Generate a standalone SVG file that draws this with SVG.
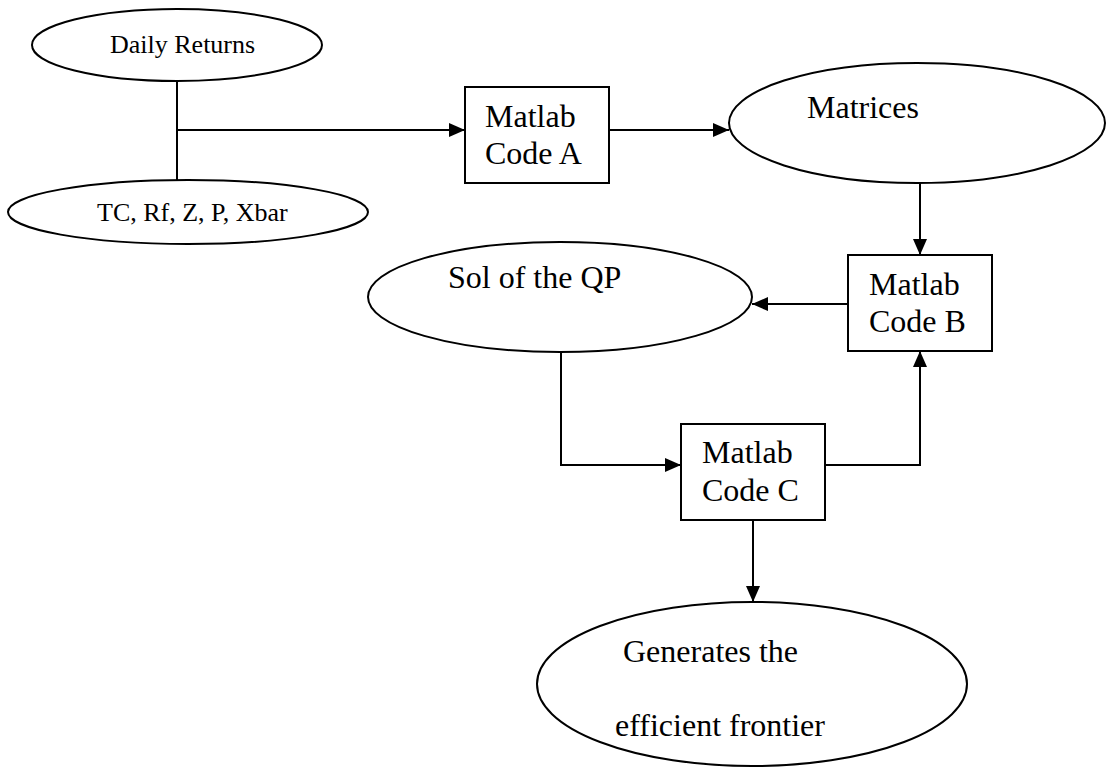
<svg xmlns="http://www.w3.org/2000/svg" width="1106" height="767" viewBox="0 0 1106 767">
<defs>
<style>
.shape{fill:#fff;stroke:#000;stroke-width:2}
.line{fill:none;stroke:#000;stroke-width:2}
.t{font-family:"Liberation Serif","Times New Roman",serif;fill:#000}
.s{font-size:26px}
.m{font-size:32px}
</style>
<marker id="ah" markerWidth="16" markerHeight="14" refX="16" refY="7" orient="auto" markerUnits="userSpaceOnUse" viewBox="0 0 16 14">
<path d="M0,0 L16,7 L0,14 Z" fill="#000"/>
</marker>
</defs>
<rect width="1106" height="767" fill="#fff"/>
<g id="connectors">
<line class="line" x1="177" y1="81" x2="177" y2="180"/>
<line class="line" x1="177" y1="130" x2="465" y2="130" marker-end="url(#ah)"/>
<line class="line" x1="609" y1="130" x2="729" y2="130" marker-end="url(#ah)"/>
<line class="line" x1="920" y1="183" x2="920" y2="255" marker-end="url(#ah)"/>
<line class="line" x1="848" y1="304" x2="752" y2="304" marker-end="url(#ah)"/>
<polyline class="line" points="561,345 561,465 681,465" marker-end="url(#ah)"/>
<polyline class="line" points="825,465 920,465 920,351" marker-end="url(#ah)"/>
<line class="line" x1="753" y1="520" x2="753" y2="602" marker-end="url(#ah)"/>
</g>
<g id="daily-returns">
<ellipse class="shape" cx="177" cy="45" rx="145" ry="36"/>
<text class="t s" x="110" y="53">Daily Returns</text>
</g>
<g id="tc-params">
<ellipse class="shape" cx="188" cy="212" rx="180" ry="32"/>
<text class="t s" x="97" y="221">TC, Rf, Z, P, Xbar</text>
</g>
<g id="code-a">
<rect class="shape" x="465" y="87" width="144" height="96"/>
<text class="t m" x="485" y="127">Matlab</text>
<text class="t m" x="485" y="164">Code A</text>
</g>
<g id="matrices">
<ellipse class="shape" cx="917" cy="123" rx="188" ry="60"/>
<text class="t m" x="807" y="118">Matrices</text>
</g>
<g id="code-b">
<rect class="shape" x="848" y="255" width="144" height="96"/>
<text class="t m" x="869" y="295">Matlab</text>
<text class="t m" x="869" y="332">Code B</text>
</g>
<g id="sol-qp">
<ellipse class="shape" cx="560" cy="297" rx="192" ry="55"/>
<text class="t m" x="448" y="288">Sol of the QP</text>
</g>
<g id="code-c">
<rect class="shape" x="681" y="424" width="144" height="96"/>
<text class="t m" x="702" y="463">Matlab</text>
<text class="t m" x="702" y="501">Code C</text>
</g>
<g id="frontier">
<ellipse class="shape" cx="752" cy="684" rx="215" ry="82"/>
<text class="t m" x="623" y="662">Generates the</text>
<text class="t m" x="615" y="736">efficient frontier</text>
</g>
</svg>
